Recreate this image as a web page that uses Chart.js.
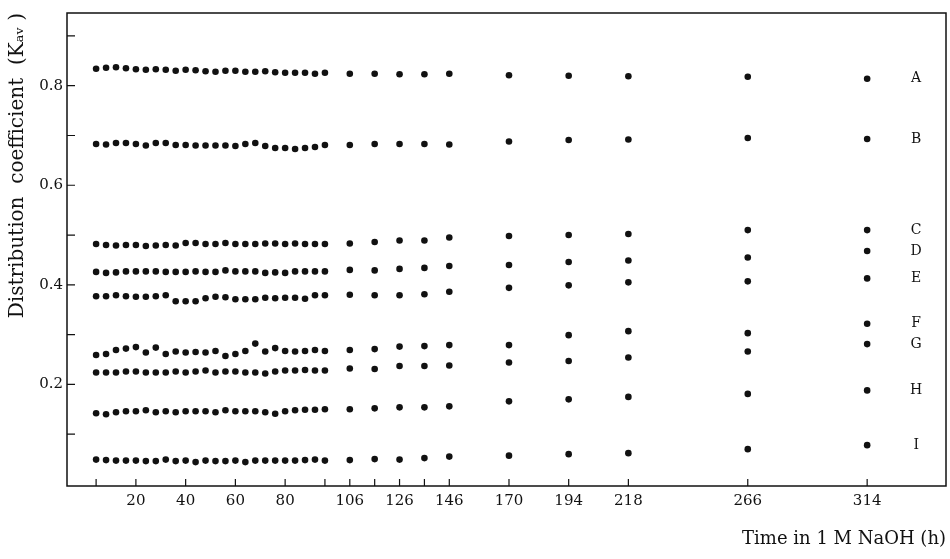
<!DOCTYPE html>
<html>
<head>
<meta charset="utf-8">
<script src="https://cdn.jsdelivr.net/npm/chart.js@4.4.0/dist/chart.umd.min.js"></script>
<style>
  html, body { margin: 0; padding: 0; background: #fff; }
</style>
</head>
<body>
<canvas id="graphic-kav" width="950" height="559"></canvas>
<script>
const hours = [4, 8, 12, 16, 20, 24, 28, 32, 36, 40, 44, 48, 52, 56, 60, 64, 68, 72, 76, 80, 84, 88, 92, 96,
               106, 116, 126, 136, 146, 170, 194, 218, 266, 314];
const tickHours = [4, 20, 40, 60, 80, 96, 106, 116, 126, 136, 146, 170, 194, 218, 266, 314];
const labeledHours = [20, 40, 60, 80, 106, 126, 146, 170, 194, 218, 266, 314];
const kavTicks = [0.1, 0.2, 0.3, 0.4, 0.5, 0.6, 0.7, 0.8, 0.9];
const kavLabels = [0.2, 0.4, 0.6, 0.8];

const kavA = [0.834, 0.836, 0.837, 0.835, 0.833, 0.832, 0.833, 0.832, 0.830, 0.832, 0.831, 0.829, 0.828, 0.830, 0.830, 0.828, 0.828, 0.829, 0.827, 0.826, 0.826, 0.826, 0.824, 0.826,
              0.824, 0.824, 0.823, 0.823, 0.824, 0.821, 0.820, 0.819, 0.818, 0.814];
const kavB = [0.683, 0.682, 0.685, 0.685, 0.683, 0.680, 0.685, 0.685, 0.681, 0.681, 0.680, 0.680, 0.680, 0.680, 0.679, 0.683, 0.685, 0.679, 0.675, 0.675, 0.673, 0.675, 0.677, 0.681,
              0.681, 0.683, 0.683, 0.683, 0.682, 0.688, 0.691, 0.692, 0.695, 0.693];
const kavC = [0.482, 0.480, 0.479, 0.480, 0.480, 0.478, 0.479, 0.480, 0.479, 0.484, 0.484, 0.482, 0.482, 0.484, 0.482, 0.482, 0.482, 0.483, 0.483, 0.482, 0.483, 0.482, 0.482, 0.482,
              0.483, 0.486, 0.489, 0.489, 0.495, 0.498, 0.500, 0.502, 0.510, 0.510];
const kavD = [0.426, 0.424, 0.425, 0.427, 0.427, 0.427, 0.427, 0.426, 0.426, 0.426, 0.427, 0.426, 0.426, 0.429, 0.427, 0.427, 0.427, 0.424, 0.425, 0.424, 0.427, 0.427, 0.427, 0.427,
              0.430, 0.429, 0.432, 0.434, 0.438, 0.440, 0.446, 0.449, 0.455, 0.468];
const kavE = [0.377, 0.377, 0.379, 0.377, 0.376, 0.376, 0.377, 0.379, 0.367, 0.367, 0.367, 0.373, 0.376, 0.375, 0.371, 0.371, 0.371, 0.374, 0.373, 0.374, 0.374, 0.372, 0.379, 0.379,
              0.380, 0.379, 0.379, 0.381, 0.386, 0.394, 0.399, 0.405, 0.407, 0.413];
const kavF = [0.259, 0.261, 0.269, 0.272, 0.275, 0.264, 0.274, 0.261, 0.266, 0.264, 0.265, 0.264, 0.267, 0.257, 0.261, 0.267, 0.282, 0.266, 0.273, 0.267, 0.266, 0.267, 0.269, 0.267,
              0.269, 0.271, 0.276, 0.277, 0.279, 0.279, 0.299, 0.307, 0.303, 0.322];
const kavG = [0.224, 0.224, 0.224, 0.226, 0.226, 0.224, 0.224, 0.224, 0.226, 0.224, 0.226, 0.228, 0.224, 0.226, 0.226, 0.224, 0.224, 0.222, 0.226, 0.228, 0.228, 0.229, 0.228, 0.228,
              0.232, 0.231, 0.237, 0.237, 0.238, 0.244, 0.247, 0.254, 0.266, 0.281];
const kavH = [0.142, 0.140, 0.144, 0.146, 0.146, 0.148, 0.144, 0.146, 0.144, 0.146, 0.146, 0.146, 0.144, 0.148, 0.146, 0.146, 0.146, 0.144, 0.141, 0.146, 0.148, 0.149, 0.149, 0.150,
              0.150, 0.152, 0.154, 0.154, 0.156, 0.166, 0.170, 0.175, 0.181, 0.188];
const kavI = [0.049, 0.048, 0.047, 0.047, 0.047, 0.046, 0.046, 0.049, 0.046, 0.047, 0.044, 0.047, 0.046, 0.046, 0.047, 0.044, 0.047, 0.047, 0.047, 0.047, 0.047, 0.048, 0.049, 0.047,
              0.048, 0.050, 0.049, 0.052, 0.055, 0.057, 0.060, 0.062, 0.070, 0.078];

const seriesNames = ['A', 'B', 'C', 'D', 'E', 'F', 'G', 'H', 'I'];
const seriesValues = [kavA, kavB, kavC, kavD, kavE, kavF, kavG, kavH, kavI];

const serif = '"DejaVu Serif", "Liberation Serif", serif';
const ink = '#111';

// box, inward ticks and the A..I letters next to the last point
const frameAndTicks = {
    id: 'frameAndTicks',
    afterDraw(chart) {
        const { ctx, chartArea: a, scales: { x, y } } = chart;
        ctx.save();
        ctx.strokeStyle = ink;
        ctx.lineWidth = 1.5;
        ctx.strokeRect(a.left, a.top, a.right - a.left, a.bottom - a.top);
        ctx.lineWidth = 1.2;
        ctx.beginPath();
        tickHours.forEach(h => {
            const px = x.getPixelForValue(h);
            ctx.moveTo(px, a.bottom);
            ctx.lineTo(px, a.bottom - 7);
        });
        kavTicks.forEach(v => {
            const py = y.getPixelForValue(v);
            ctx.moveTo(a.left, py);
            ctx.lineTo(a.left + 8, py);
        });
        ctx.stroke();

        ctx.fillStyle = ink;
        ctx.font = '14px ' + serif;
        ctx.textAlign = 'center';
        ctx.textBaseline = 'middle';
        chart.data.datasets.forEach(ds => {
            const last = ds.data[ds.data.length - 1];
            ctx.fillText(ds.label, x.getPixelForValue(last.x) + 49, y.getPixelForValue(last.y));
        });
        ctx.restore();
    }
};

const datasets = seriesNames.map((name, k) => ({
    label: name,
    data: hours.map((h, i) => ({ x: h, y: seriesValues[k][i] })),
    backgroundColor: ink,
    borderWidth: 0,
    pointRadius: 3.3,
    showLine: false
}));

new Chart(document.getElementById('graphic-kav'), {
    type: 'scatter',
    data: { datasets: datasets },
    options: {
        responsive: false,
        animation: false,
        events: [],
        layout: { padding: { left: 6, right: 3, top: 10, bottom: 0 } },
        scales: {
            x: {
                type: 'linear',
                min: -7.7,
                max: 345.7,
                grid: { display: false, drawTicks: false },
                border: { display: false },
                afterBuildTicks: scale => { scale.ticks = tickHours.map(v => ({ value: v })); },
                afterFit: scale => { scale.height = 73; },
                ticks: {
                    autoSkip: false,
                    maxRotation: 0,
                    padding: 6,
                    color: ink,
                    font: { family: serif, size: 15 },
                    callback: v => labeledHours.includes(v) ? String(v) : ''
                },
                title: {
                    display: true,
                    text: 'Time in 1 M NaOH (h)',
                    align: 'end',
                    color: ink,
                    font: { family: serif, size: 18 },
                    padding: { top: 0, bottom: 9 }
                }
            },
            y: {
                min: -0.004,
                max: 0.946,
                grid: { display: false, drawTicks: false },
                border: { display: false },
                afterBuildTicks: scale => { scale.ticks = kavTicks.map(v => ({ value: v })); },
                afterFit: scale => { scale.width = 61; },
                ticks: {
                    padding: 4,
                    color: ink,
                    font: { family: serif, size: 15 },
                    callback: v => kavLabels.some(l => Math.abs(l - v) < 1e-6) ? v.toFixed(1) : ''
                },
                title: {
                    display: true,
                    text: 'Distribution  coefficient  (K\u2090\u1D65 )',
                    align: 'end',
                    color: ink,
                    font: { family: serif, size: 20 },
                    padding: { top: 0, bottom: 0 }
                }
            }
        },
        plugins: {
            legend: { display: false },
            tooltip: { enabled: false }
        }
    },
    plugins: [frameAndTicks]
});
</script>
</body>
</html>
